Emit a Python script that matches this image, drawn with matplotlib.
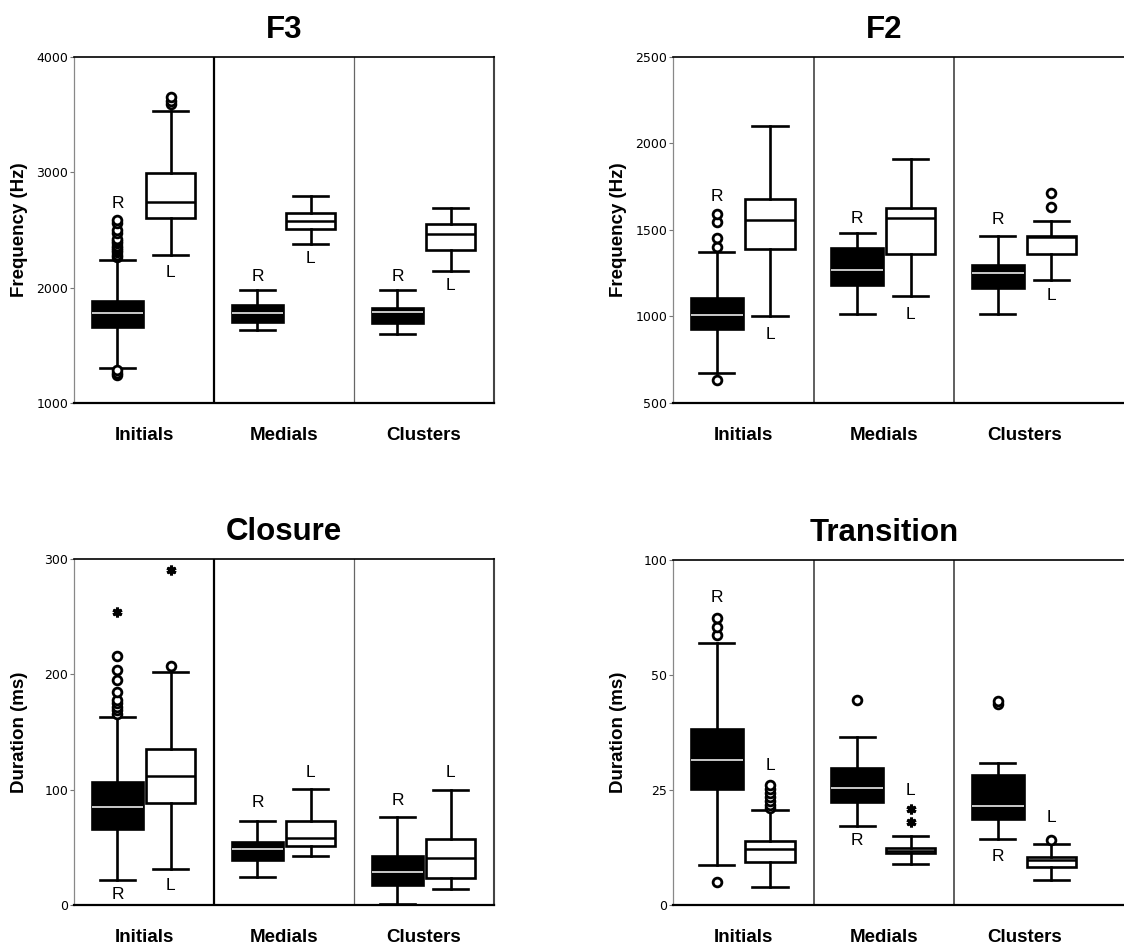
import numpy as np
import matplotlib
matplotlib.use('Agg')
import matplotlib.pyplot as plt

plt.rcParams['font.family'] = ['Liberation Sans', 'DejaVu Sans']

groups = ['Initials', 'Medials', 'Clusters']

# each box: (lower whisker, q1, median, q3, upper whisker), one per group
f3_r = [(1304, 1656, 1777, 1887, 2241), (1634, 1704, 1777, 1853, 1980), (1600, 1690, 1789, 1825, 1980)]
f3_l = [(2281, 2603, 2739, 2994, 3530), (2380, 2507, 2574, 2646, 2791), (2148, 2328, 2464, 2551, 2690)]
f3_r_out = [[1240, 1262, 1285, 2262, 2285, 2305, 2325, 2345, 2365, 2385, 2405, 2425, 2470, 2500, 2560, 2590], [], []]
f3_l_out = [[3589, 3620, 3649], [], []]
f3_r_lab = [2728, 2096, 2099]
f3_l_lab = [2128, 2252, 2023]

f2_r = [(676, 925, 1008, 1108, 1375), (1017, 1181, 1268, 1398, 1485), (1012, 1166, 1253, 1297, 1465)]
f2_l = [(1002, 1388, 1558, 1678, 2102), (1120, 1361, 1571, 1629, 1909), (1210, 1361, 1461, 1465, 1554)]
f2_r_out = [[631, 1404, 1452, 1548, 1593], [], []]
f2_l_out = [[], [], [1631, 1716]]
f2_r_lab = [1693, 1568, 1558]
f2_l_lab = [898, 1012, 1124]

clo_r = [(21.7, 65.7, 85.3, 106.5, 162.9), (24.6, 39.0, 48.3, 54.4, 73.2), (0.6, 17.4, 28.3, 42.8, 76.7)]
clo_l = [(31.2, 88.8, 112.0, 135.0, 202.0), (42.8, 51.2, 58.4, 73.2, 100.7), (13.9, 23.7, 40.5, 57.3, 99.8)]
clo_r_out = [[166, 169, 172, 175, 178, 185, 194.7, 204, 215.5], [], []]
clo_l_out = [[206.8], [], []]
clo_r_ext = [[254], [], []]
clo_l_ext = [[290.7], [], []]
clo_r_lab = [8.7, 88.8, 91]
clo_l_lab = [16.5, 115, 115]

tr_r = [(8.7, 25.2, 31.5, 38.2, 63.8), (17.2, 22.5, 25.4, 29.7, 36.6), (14.3, 18.6, 21.5, 28.3, 30.8)]
tr_l = [(4.0, 9.3, 12.1, 14.0, 20.7), (8.9, 11.2, 11.8, 12.5, 14.9), (5.4, 8.2, 9.8, 10.5, 13.3)]
tr_r_out = [[4.9, 67.4, 71.0, 74.6], [44.6], [43.8, 44.3]]
tr_l_out = [[21.0, 21.8, 22.6, 23.5, 24.4, 25.2, 26.0], [], [14.1]]
tr_l_ext = [[], [18.1, 20.9], []]
tr_r_lab = [83.8, 14.0, 10.6]
tr_l_lab = [30.3, 25.0, 19.1]


# transition axis: 0-50 linear, 50-100 squeezed to half
def tr_forward(v):
    v = np.asarray(v, dtype=float)
    return np.where(v <= 50, v, 50 + (v - 50) / 2)


def tr_inverse(f):
    f = np.asarray(f, dtype=float)
    return np.where(f <= 50, f, 50 + (f - 50) * 2)


def stats(boxes, outs):
    res = []
    for (lo, q1, med, q3, hi), fl in zip(boxes, outs):
        res.append(dict(whislo=lo, q1=q1, med=med, q3=q3, whishi=hi, fliers=fl))
    return res


def draw_panel(ax, title, ylabel, yticks, r_box, l_box, r_out, l_out,
               r_lab, l_lab, r_ext=None, l_ext=None, title_x=0.5,
               div_styles=(('black', 1.6), ('#666666', 0.9)), right_spine=True):
    pos = np.arange(3)
    flier = dict(marker='o', markersize=6.3, markerfacecolor='white',
                 markeredgecolor='black', markeredgewidth=2.0, linestyle='none')
    ax.bxp(stats(r_box, r_out), positions=pos + 0.31, widths=0.37, capwidths=0.25,
           patch_artist=True, manage_ticks=False,
           boxprops=dict(facecolor='black', edgecolor='black', linewidth=1.9),
           whiskerprops=dict(color='black', linewidth=1.9),
           capprops=dict(color='black', linewidth=1.9),
           medianprops=dict(color='white', linewidth=1.1),
           flierprops=flier)
    ax.bxp(stats(l_box, l_out), positions=pos + 0.69, widths=0.35, capwidths=0.25,
           patch_artist=True, manage_ticks=False,
           boxprops=dict(facecolor='white', edgecolor='black', linewidth=1.9),
           whiskerprops=dict(color='black', linewidth=1.9),
           capprops=dict(color='black', linewidth=1.9),
           medianprops=dict(color='black', linewidth=1.8),
           flierprops=flier)

    # extreme values drawn as asterisks
    for ext, off in ((r_ext, 0.31), (l_ext, 0.69)):
        if ext is None:
            continue
        for g, vals in enumerate(ext):
            if vals:
                ax.plot([g + off] * len(vals), vals, linestyle='none',
                        marker=(6, 2, 0), markersize=7, markeredgewidth=2.2,
                        color='black')

    for g in range(3):
        ax.text(g + 0.31, r_lab[g], 'R', ha='center', va='center', fontsize=12.5)
        ax.text(g + 0.69, l_lab[g], 'L', ha='center', va='center', fontsize=12.5)

    for x, (c, lw) in zip((1, 2), div_styles):
        ax.axvline(x, color=c, linewidth=lw, zorder=0.5)

    ax.set_ylim(yticks[0], yticks[-1])
    ax.set_yticks(yticks)
    ax.set_yticklabels([str(t) for t in yticks], fontfamily='DejaVu Sans', fontsize=9)
    ax.tick_params(axis='y', length=3, width=0.8, color='#777777', pad=1)
    ax.set_xticks(pos + 0.5)
    ax.set_xticklabels(groups, fontsize=13.5, fontweight='bold')
    ax.tick_params(axis='x', length=0, pad=17)

    ax.set_title(title, fontsize=22.5, fontweight='bold', pad=14, x=title_x)
    ax.set_ylabel(ylabel, fontsize=13.5, fontweight='bold')

    ax.spines['left'].set_color('#888888')
    ax.spines['left'].set_linewidth(0.9)
    ax.spines['top'].set_linewidth(1.2)
    ax.spines['bottom'].set_linewidth(1.6)
    ax.spines['right'].set_color('#444444')
    ax.spines['right'].set_linewidth(1.5)
    ax.spines['right'].set_visible(right_spine)


W, H = 1124, 947
fig = plt.figure(figsize=(W / 100, H / 100), dpi=100)

ax_f3 = fig.add_axes([74 / W, 1 - 403 / H, 420 / W, 346 / H])
ax_f2 = fig.add_axes([673 / W, 1 - 403 / H, 464 / W, 346 / H])
ax_clo = fig.add_axes([74 / W, 1 - 905 / H, 420 / W, 346 / H])
ax_tr = fig.add_axes([673 / W, 1 - 905 / H, 464 / W, 345 / H])

ax_tr.set_yscale('function', functions=(tr_forward, tr_inverse))

draw_panel(ax_f3, 'F3', 'Frequency (Hz)', [1000, 2000, 3000, 4000],
           f3_r, f3_l, f3_r_out, f3_l_out, f3_r_lab, f3_l_lab)
ax_f3.set_xlim(0, 3)

draw_panel(ax_f2, 'F2', 'Frequency (Hz)', [500, 1000, 1500, 2000, 2500],
           f2_r, f2_l, f2_r_out, f2_l_out, f2_r_lab, f2_l_lab, title_x=0.455,
           div_styles=(('#444444', 1.2), ('#444444', 1.2)), right_spine=False)
ax_f2.set_xlim(0, 3.3)

draw_panel(ax_clo, 'Closure', 'Duration (ms)', [0, 100, 200, 300],
           clo_r, clo_l, clo_r_out, clo_l_out, clo_r_lab, clo_l_lab,
           r_ext=clo_r_ext, l_ext=clo_l_ext)
ax_clo.set_xlim(0, 3)

draw_panel(ax_tr, 'Transition', 'Duration (ms)', [0, 25, 50, 100],
           tr_r, tr_l, tr_r_out, tr_l_out, tr_r_lab, tr_l_lab,
           l_ext=tr_l_ext, title_x=0.455,
           div_styles=(('#444444', 1.2), ('#444444', 1.2)), right_spine=False)
ax_tr.set_xlim(0, 3.3)

for ax, w in ((ax_f3, 420), (ax_clo, 420), (ax_f2, 464), (ax_tr, 464)):
    ax.yaxis.set_label_coords(-46 / w, 0.5)

fig.savefig('out.png', dpi=100)
